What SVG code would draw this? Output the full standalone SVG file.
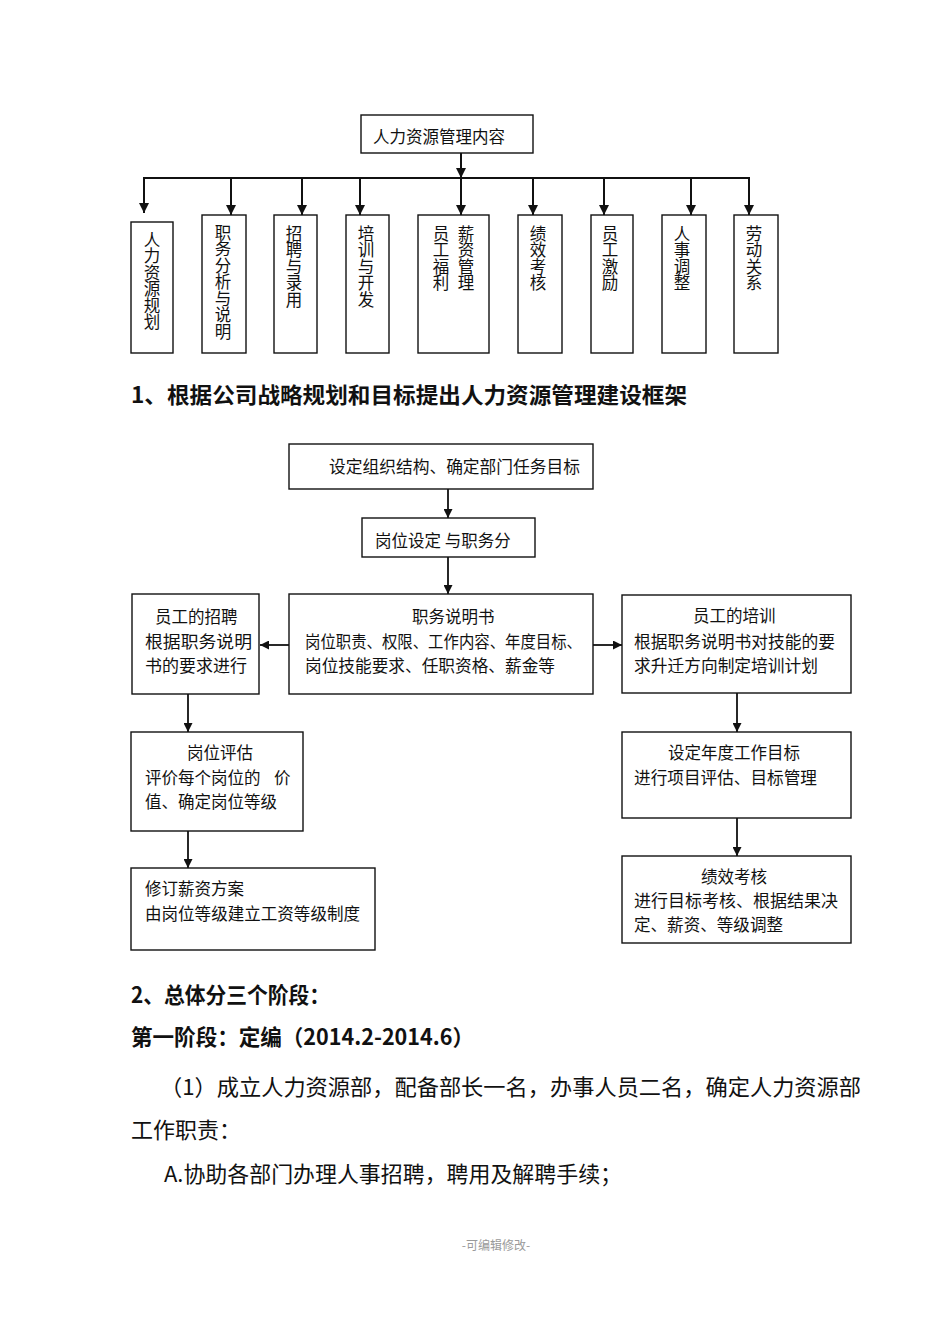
<svg xmlns="http://www.w3.org/2000/svg" width="950" height="1344" viewBox="0 0 950 1344">
<style>
text{font-family:"Noto Sans CJK SC","Noto Sans",sans-serif;fill:#111}
.t{font-size:16.5px}
.v{font-size:16.5px;writing-mode:vertical-rl;text-orientation:upright}
.h{font-size:22px;font-weight:bold}
.b{font-size:22px}
.box{fill:#fff;stroke:#111;stroke-width:1.4}
.ln{fill:none;stroke:#111;stroke-width:2}
.ln2{fill:none;stroke:#111;stroke-width:1.8}
.foot{font-size:12px;fill:#9a9a9a;text-anchor:middle}
</style>
<defs>
<marker id="ah" viewBox="0 0 10 10" refX="10" refY="5" markerWidth="10" markerHeight="10" markerUnits="userSpaceOnUse" orient="auto"><path d="M0,0 L10,5 L0,10 z" fill="#111"/></marker>
<marker id="ah2" viewBox="0 0 10 10" refX="10" refY="5" markerWidth="9" markerHeight="9" markerUnits="userSpaceOnUse" orient="auto"><path d="M0,0 L10,5 L0,10 z" fill="#111"/></marker>
</defs>

<!-- Diagram 1 nodes -->
<g id="n-root"><rect class="box" x="361" y="115" width="172" height="38"/><text class="t" x="373" y="143">人力资源管理内容</text></g>
<g id="n-c1"><rect class="box" x="131" y="222" width="42" height="131"/><text class="v" x="152" y="231">人力资源规划</text></g>
<g id="n-c2"><rect class="box" x="202" y="215" width="44" height="138"/><text class="v" x="223" y="224">职务分析与说明</text></g>
<g id="n-c3"><rect class="box" x="274" y="215" width="43" height="138"/><text class="v" x="294" y="225">招聘与录用</text></g>
<g id="n-c4"><rect class="box" x="346" y="215" width="43" height="138"/><text class="v" x="366" y="225">培训与开发</text></g>
<g id="n-c5"><rect class="box" x="418" y="215" width="71" height="138"/><text class="v" x="441" y="225">员工福利</text><text class="v" x="466" y="225">薪资管理</text></g>
<g id="n-c6"><rect class="box" x="518" y="215" width="44" height="138"/><text class="v" x="538" y="225">绩效考核</text></g>
<g id="n-c7"><rect class="box" x="591" y="215" width="42" height="138"/><text class="v" x="610" y="225">员工激励</text></g>
<g id="n-c8"><rect class="box" x="662" y="215" width="44" height="138"/><text class="v" x="682" y="225">人事调整</text></g>
<g id="n-c9"><rect class="box" x="734" y="215" width="44" height="138"/><text class="v" x="754" y="225">劳动关系</text></g>

<g id="heading1"><text class="h" x="131" y="403" textLength="556" lengthAdjust="spacingAndGlyphs">1、根据公司战略规划和目标提出人力资源管理建设框架</text></g>

<!-- Diagram 2 nodes -->
<g id="n-a"><rect class="box" x="289" y="444" width="304" height="45"/><text class="t" x="329" y="473" textLength="251" lengthAdjust="spacingAndGlyphs">设定组织结构、确定部门任务目标</text></g>
<g id="n-b"><rect class="box" x="362" y="518" width="173" height="39"/><text class="t" x="375" y="547" xml:space="preserve">岗位设定 与职务分</text></g>
<g id="n-c"><rect class="box" x="289" y="594" width="304" height="100"/><text class="t" x="412" y="623">职务说明书</text><text class="t" x="305" y="648" textLength="277" lengthAdjust="spacingAndGlyphs">岗位职责、权限、工作内容、年度目标、</text><text class="t" x="305" y="672" textLength="250" lengthAdjust="spacingAndGlyphs">岗位技能要求、任职资格、薪金等</text></g>
<g id="n-d"><rect class="box" x="132" y="594" width="127" height="100"/><text class="t" x="155" y="623">员工的招聘</text><text class="t" x="145" y="648" textLength="107" lengthAdjust="spacingAndGlyphs">根据职务说明</text><text class="t" x="145" y="672" textLength="102" lengthAdjust="spacingAndGlyphs">书的要求进行</text></g>
<g id="n-e"><rect class="box" x="622" y="595" width="229" height="98"/><text class="t" x="693" y="622">员工的培训</text><text class="t" x="634" y="648" textLength="201" lengthAdjust="spacingAndGlyphs">根据职务说明书对技能的要</text><text class="t" x="634" y="672" textLength="184" lengthAdjust="spacingAndGlyphs">求升迁方向制定培训计划</text></g>
<g id="n-f"><rect class="box" x="622" y="732" width="229" height="86"/><text class="t" x="668" y="759">设定年度工作目标</text><text class="t" x="634" y="784" textLength="183" lengthAdjust="spacingAndGlyphs">进行项目评估、目标管理</text></g>
<g id="n-g"><rect class="box" x="622" y="856" width="229" height="87"/><text class="t" x="701" y="883">绩效考核</text><text class="t" x="634" y="907" textLength="204" lengthAdjust="spacingAndGlyphs">进行目标考核、根据结果决</text><text class="t" x="634" y="931" textLength="149" lengthAdjust="spacingAndGlyphs">定、薪资、等级调整</text></g>
<g id="n-h"><rect class="box" x="131" y="732" width="172" height="99"/><text class="t" x="187" y="759">岗位评估</text><text class="t" x="145" y="784">评价每个岗位的</text><text class="t" x="274" y="784">价</text><text class="t" x="145" y="808">值、确定岗位等级</text></g>
<g id="n-i"><rect class="box" x="131" y="868" width="244" height="82"/><text class="t" x="145" y="895">修订薪资方案</text><text class="t" x="145" y="920" textLength="215" lengthAdjust="spacingAndGlyphs">由岗位等级建立工资等级制度</text></g>

<!-- Connectors -->
<g id="connectors">
<line class="ln" x1="461" y1="153" x2="461" y2="178" marker-end="url(#ah)"/>
<line class="ln" x1="144" y1="178" x2="749" y2="178"/>
<line class="ln" x1="144" y1="177" x2="144" y2="213" marker-end="url(#ah)"/>
<line class="ln" x1="231" y1="178" x2="231" y2="215" marker-end="url(#ah)"/>
<line class="ln" x1="302" y1="178" x2="302" y2="215" marker-end="url(#ah)"/>
<line class="ln" x1="360" y1="178" x2="360" y2="215" marker-end="url(#ah)"/>
<line class="ln" x1="461" y1="178" x2="461" y2="215" marker-end="url(#ah)"/>
<line class="ln" x1="533" y1="178" x2="533" y2="215" marker-end="url(#ah)"/>
<line class="ln" x1="604" y1="178" x2="604" y2="215" marker-end="url(#ah)"/>
<line class="ln" x1="691" y1="178" x2="691" y2="215" marker-end="url(#ah)"/>
<line class="ln" x1="749" y1="177" x2="749" y2="215" marker-end="url(#ah)"/>

<line class="ln2" x1="448" y1="489" x2="448" y2="518" marker-end="url(#ah2)"/>
<line class="ln2" x1="448" y1="557" x2="448" y2="594" marker-end="url(#ah2)"/>
<line class="ln2" x1="289" y1="645" x2="260" y2="645" marker-end="url(#ah2)"/>
<line class="ln2" x1="593" y1="645" x2="622" y2="645" marker-end="url(#ah2)"/>
<line class="ln2" x1="188" y1="694" x2="188" y2="732" marker-end="url(#ah2)"/>
<line class="ln2" x1="188" y1="831" x2="188" y2="868" marker-end="url(#ah2)"/>
<line class="ln2" x1="737" y1="693" x2="737" y2="732" marker-end="url(#ah2)"/>
<line class="ln2" x1="737" y1="818" x2="737" y2="856" marker-end="url(#ah2)"/>
</g>

<!-- Body text -->
<g id="body">
<text class="h" x="131" y="1003" textLength="199" lengthAdjust="spacingAndGlyphs">2、总体分三个阶段：</text>
<text class="h" x="131" y="1045" textLength="343" lengthAdjust="spacingAndGlyphs">第一阶段：定编（2014.2-2014.6）</text>
<text class="b" x="160" y="1095" textLength="701" lengthAdjust="spacingAndGlyphs">（1）成立人力资源部，配备部长一名，办事人员二名，确定人力资源部</text>
<text class="b" x="131" y="1138">工作职责：</text>
<text class="b" x="164" y="1182" textLength="458" lengthAdjust="spacingAndGlyphs">A.协助各部门办理人事招聘，聘用及解聘手续；</text>
</g>
<text class="foot" x="496" y="1250">-可编辑修改-</text>
</svg>
